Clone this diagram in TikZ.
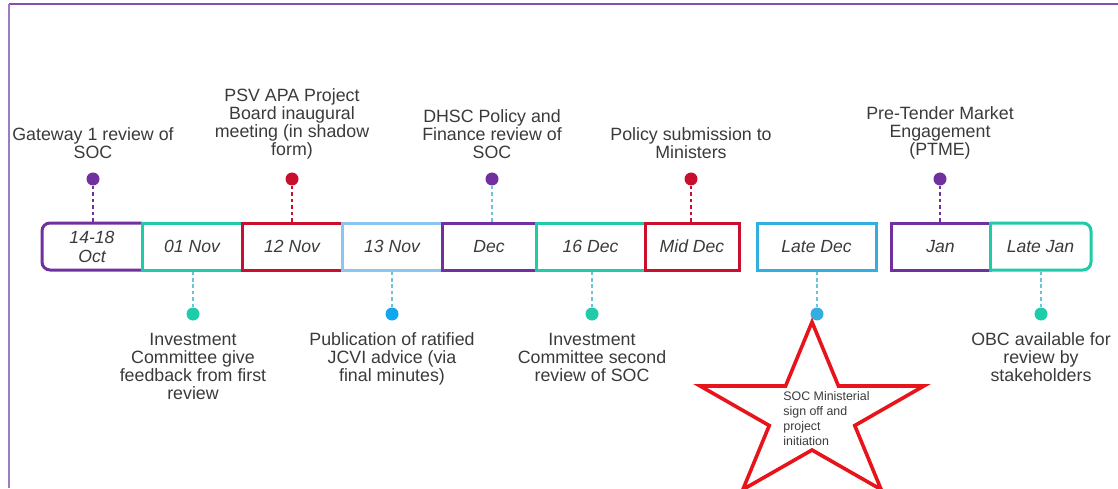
\documentclass[tikz,border=0pt]{standalone}
\usepackage{fontspec}
\setmainfont{Liberation Sans}
\usetikzlibrary{positioning}

\definecolor{mpurple}{HTML}{7030A0}
\definecolor{mteal}{HTML}{1FCBA8}
\definecolor{mcrimson}{HTML}{C8102E}
\definecolor{mpale}{HTML}{8CC5F0}
\definecolor{msky}{HTML}{33AEE0}
\definecolor{mblue}{HTML}{12A6EE}
\definecolor{mstem}{HTML}{6CC4D8}
\definecolor{mstar}{HTML}{E8141B}
\definecolor{mtext}{HTML}{3A3A3A}
\definecolor{mframe}{HTML}{9C7CC0}

\tikzset{
  datebox/.style={line width=1.5pt, outer sep=0pt, inner sep=0pt, minimum height=23.5pt,
    align=center, text=mtext, font=\fontsize{8.8}{9.5}\selectfont\itshape},
  dot/.style={circle, inner sep=0pt, minimum size=6.5pt},
  stem/.style={line width=0.75pt, dash pattern=on 1.8pt off 1.4pt, shorten >=0.75pt},
  toplabel/.style={align=center, inner sep=0pt, text=mtext, font=\fontsize{8.9}{9}\selectfont},
  botlabel/.style={toplabel},
  startext/.style={align=left, inner sep=0pt, text=mtext, font=\fontsize{6.2}{7.5}\selectfont}
}

\begin{document}
\begin{tikzpicture}[x=0.5pt,y=0.5pt]
  \useasboundingbox (0,0) rectangle (1118,488);
  \draw[mpurple!85, line width=1pt] (9,484) -- (1118,484);
  \draw[mframe, line width=0.7pt] (9,484) -- (9,0);

  % date boxes
  \node[datebox, minimum width=50pt] (oct) at (92,241.5) {14-18\\Oct};
  \draw[mpurple, line width=1.5pt, rounded corners=4pt] (oct.north east) -- (oct.north west) -- (oct.south west) -- (oct.south east);
  \foreach \lx/\rx/\col/\nm/\txt in {142/242/mteal/nov1/01 Nov, 242/342/mcrimson/nov12/12 Nov,
      342/442/mpale/nov13/13 Nov, 442/536/mpurple/dec/Dec, 536/645/mteal/dec16/16 Dec,
      645/739/mcrimson/middec/Mid Dec, 757/876/msky/latedec/Late Dec, 891/990/mpurple/jan/Jan}{
    \node[datebox, draw=\col, minimum width={(\rx-\lx)*0.5pt}] (\nm) at ({(\lx+\rx)/2},241.5) {\txt};
  }
  \node[datebox, minimum width=50.5pt] (latejan) at (1040.5,241.5) {Late Jan};
  \draw[mteal, line width=1.5pt, rounded corners=4pt] (latejan.north west) -- (latejan.north east) -- (latejan.south east) -- (latejan.south west);
  \draw[mteal, line width=1.5pt, line cap=rect] (latejan.south west) -- (latejan.north west);

  % milestones
  \foreach \x/\col/\nm in {93/mpurple/gate, 292/mcrimson/psv, 492/mpurple/dhsc, 691/mcrimson/subm, 940/mpurple/ptme}{
    \node[dot, fill=\col] (\nm) at (\x,309) {};
  }
  \foreach \x/\col/\nm in {193/mteal/icfb, 392/mblue/jcvi, 592/mteal/icsr, 817/msky/signoff, 1041/mteal/obc}{
    \node[dot, fill=\col] (\nm) at (\x,174) {};
  }
  \draw[stem, mpurple] (gate) -- (gate |- oct.north);
  \draw[stem, mcrimson] (psv) -- (psv |- nov12.north);
  \draw[stem, mstem] (dhsc) -- (dhsc |- dec.north);
  \draw[stem, mcrimson] (subm) -- (subm |- middec.north);
  \draw[stem, mpurple] (ptme) -- (ptme |- jan.north);
  \draw[stem, mstem] (icfb) -- (icfb |- nov1.south);
  \draw[stem, mstem] (jcvi) -- (jcvi |- nov13.south);
  \draw[stem, mstem] (icsr) -- (icsr |- dec16.south);
  \draw[stem, mstem] (signoff) -- (signoff |- latedec.south);
  \draw[stem, mstem] (obc) -- (obc |- latejan.south);

  \node[toplabel, above=6.5pt of gate] (gatetxt) {Gateway 1 review of\\SOC};
  \node[toplabel, above=6.5pt of psv] (psvtxt) {PSV APA Project\\Board inaugural\\meeting (in shadow\\form)};
  \node[toplabel, above=6.5pt of dhsc] (dhsctxt) {DHSC Policy and\\Finance review of\\SOC};
  \node[toplabel, above=6.5pt of subm] (submtxt) {Policy submission to\\Ministers};
  \node[toplabel, above=6.5pt of ptme] (ptmetxt) {Pre-Tender Market\\Engagement\\(PTME)};
  \node[botlabel, below=5.75pt of icfb] (icfbtxt) {Investment\\Committee give\\feedback from first\\review};
  \node[botlabel, below=5.75pt of jcvi] (jcvitxt) {Publication of ratified\\JCVI advice (via\\final minutes)};
  \node[botlabel, below=5.75pt of icsr] (icsrtxt) {Investment\\Committee second\\review of SOC};
  \node[botlabel, below=5.75pt of obc] (obctxt) {OBC available for\\review by\\stakeholders};

  % star
  \draw[mstar, line width=1.8pt, shift={(812,73.4)}, xscale=1.27] (90:92.6)
    \foreach \k in {1,...,9}{ -- ({90+36*\k}:{ifthenelse(isodd(\k),35.4,92.6)}) } -- cycle;
  \node[startext, anchor=north west] (soctxt) at (783,97) {SOC Ministerial\\sign off and\\project\\initiation};
\end{tikzpicture}
\end{document}
